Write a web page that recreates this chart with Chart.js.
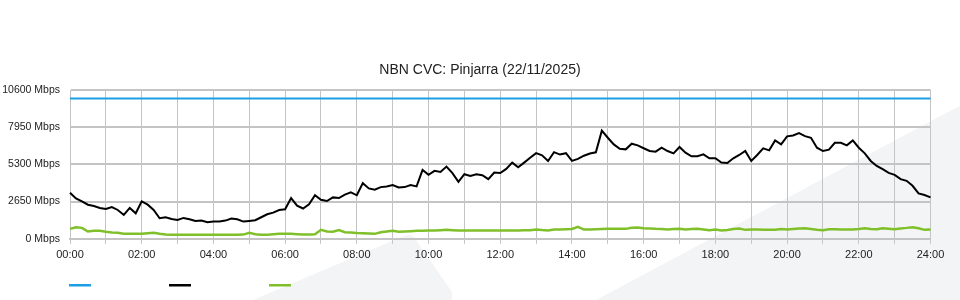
<!DOCTYPE html>
<html>
<head>
<meta charset="utf-8">
<script src="https://cdn.jsdelivr.net/npm/chart.js@4/dist/chart.umd.min.js"></script>
<style>
  html, body { margin: 0; padding: 0; background: #ffffff; }
  #wrap { position: relative; width: 960px; height: 300px; }
</style>
</head>
<body>
<div id="wrap"><canvas id="c" width="960" height="300"></canvas></div>
<script>
// ---- data (10-minute samples, 00:00 .. 24:00) ----
const chartTitle = 'NBN CVC: Pinjarra (22/11/2025)';
const seriesNames = ['Capacity', 'Download', 'Upload'];
const yTicks = [0, 2650, 5300, 7950, 10600];
const capacityTimes = ['00:00', '24:00'];
const capacity = [10000, 10000];
const download = [
  3280, 2880, 2667, 2430, 2336, 2195, 2124, 2266, 2053, 1700, 2200, 1817,
  2667, 2430, 2053, 1463, 1534, 1416, 1345, 1487, 1392, 1274, 1298, 1180,
  1227, 1227, 1298, 1440, 1392, 1227, 1274, 1322, 1534, 1746, 1864, 2053,
  2100, 2900, 2360, 2160, 2450, 3100, 2785, 2690, 2950, 2900, 3150, 3304,
  3100, 3965, 3587, 3493, 3682, 3729, 3823, 3658, 3682, 3823, 3729, 4900,
  4555, 4838, 4767, 5145, 4673, 4059, 4602, 4484, 4602, 4531, 4248, 4720,
  4690, 4980, 5428, 5090, 5428, 5770, 6100, 5947, 5546, 6170, 6000, 6100,
  5550, 5690, 5920, 6080, 6160, 7700, 7198, 6726, 6419, 6372, 6773, 6655,
  6450, 6254, 6207, 6490, 6254, 6089, 6537, 6136, 5876, 5876, 6018, 5735,
  5735, 5428, 5404, 5735, 5971, 6254, 5546, 5971, 6443, 6301, 7009, 6726,
  7300, 7363, 7528, 7316, 7198, 6490, 6254, 6348, 6844, 6844, 6655, 7009,
  6490, 6089, 5546, 5192, 4956, 4696, 4555, 4248, 4130, 3776, 3233, 3115,
  2950
];
const upload = [
  708, 826, 779, 519, 566, 566, 496, 448, 425, 354, 354, 354,
  354, 401, 425, 354, 307, 283, 283, 283, 283, 283, 283, 283,
  283, 283, 283, 283, 283, 300, 425, 330, 283, 283, 330, 354,
  354, 354, 330, 307, 307, 330, 637, 520, 500, 620, 470, 450,
  420, 401, 380, 354, 472, 520, 566, 496, 520, 540, 566, 566,
  590, 590, 614, 637, 614, 590, 590, 590, 590, 590, 590, 590,
  590, 590, 590, 600, 614, 614, 661, 620, 600, 661, 661, 684,
  700, 850, 661, 661, 684, 700, 708, 708, 708, 708, 780, 802,
  755, 740, 708, 700, 661, 690, 720, 661, 700, 708, 661, 614,
  661, 590, 620, 700, 731, 637, 661, 661, 640, 637, 650, 690,
  661, 700, 740, 755, 700, 640, 614, 684, 684, 661, 661, 661,
  700, 755, 700, 684, 755, 720, 684, 740, 778, 826, 755, 637,
  661
];
// category labels: one per 10-minute sample
const times = [];
for (let k = 0; k < download.length; k++) {
  const h = Math.floor(k / 6), m = (k % 6) * 10;
  times.push(String(h).padStart(2, '0') + ':' + String(m).padStart(2, '0'));
}

const colors = ['#1d9fe3', '#000000', '#7fc02a'];
const gridColor = '#c4c4c4';

// decorative watermark shapes behind the chart
const backdrop = {
  id: 'backdrop',
  beforeDraw(chart) {
    const ctx = chart.ctx;
    ctx.save();
    ctx.fillStyle = '#f3f4f6';
    ctx.beginPath();
    ctx.moveTo(253, 300);
    ctx.lineTo(404, 236);
    ctx.quadraticCurveTo(412, 233, 416, 240);
    ctx.lineTo(452, 292);
    ctx.lineTo(452, 300);
    ctx.closePath();
    ctx.fill();
    ctx.beginPath();
    ctx.moveTo(596, 300);
    ctx.lineTo(948, 112);
    ctx.quadraticCurveTo(960, 106, 960, 106);
    ctx.lineTo(960, 300);
    ctx.closePath();
    ctx.fill();
    ctx.restore();
  }
};

// legend swatches (line marks, no text), taken from the datasets
const lineLegend = {
  id: 'lineLegend',
  afterDraw(chart) {
    const ctx = chart.ctx;
    const x0 = chart.chartArea.left - 1;
    ctx.save();
    chart.data.datasets.forEach((ds, i) => {
      ctx.fillStyle = ds.borderColor;
      ctx.fillRect(x0 + i * 100, 284, 22, 2.5);
    });
    ctx.restore();
  }
};

new Chart(document.getElementById('c'), {
  type: 'line',
  data: {
    labels: times,
    datasets: [
      { label: seriesNames[0], data: capacityTimes.map((t, i) => ({ x: t, y: capacity[i] })),
        borderColor: colors[0], borderWidth: 2, pointRadius: 0, tension: 0 },
      { label: seriesNames[1], data: download,
        borderColor: colors[1], borderWidth: 2, pointRadius: 0, tension: 0 },
      { label: seriesNames[2], data: upload,
        borderColor: colors[2], borderWidth: 2.5, pointRadius: 0, tension: 0 }
    ]
  },
  options: {
    responsive: false,
    animation: false,
    events: [],
    layout: { padding: { left: 0, right: 0, top: 0, bottom: 33 } },
    plugins: {
      legend: { display: false },
      tooltip: { enabled: false },
      title: {
        display: true, text: chartTitle, color: '#222',
        font: { family: 'Liberation Sans, Arial, sans-serif', size: 14, weight: 'normal' },
        padding: { top: 62.1, bottom: 11.1 }
      }
    },
    scales: {
      x: {
        type: 'category',
        offset: false,
        grid: {
          color: ctx => (ctx.index % 6 === 0 ? gridColor : 'rgba(0,0,0,0)'),
          lineWidth: 1, drawTicks: true, tickLength: 5
        },
        border: { display: true, color: gridColor, width: 2 },
        ticks: {
          autoSkip: false, maxRotation: 0, padding: 5, color: '#222',
          font: { family: 'Liberation Sans, Arial, sans-serif', size: 11 },
          callback: function (v, i) { return i % 12 === 0 ? this.getLabelForValue(v) : ''; }
        }
      },
      y: {
        min: 0, max: 10600,
        afterBuildTicks: s => { s.ticks = yTicks.map(v => ({ value: v })); },
        afterFit: s => { s.width = 70; },
        grid: { color: gridColor, lineWidth: 2, drawTicks: false },
        border: { display: true, color: gridColor, width: 1 },
        ticks: {
          padding: 10, color: '#222',
          font: { family: 'Liberation Sans, Arial, sans-serif', size: 10.5 },
          callback: v => v + ' Mbps'
        }
      },
      yRight: {
        position: 'right',
        min: 0, max: 10600,
        afterFit: s => { s.width = 29.5; },
        grid: { display: false, drawOnChartArea: false },
        border: { display: false },
        ticks: { display: false }
      }
    }
  },
  plugins: [backdrop, lineLegend]
});
</script>
</body>
</html>
